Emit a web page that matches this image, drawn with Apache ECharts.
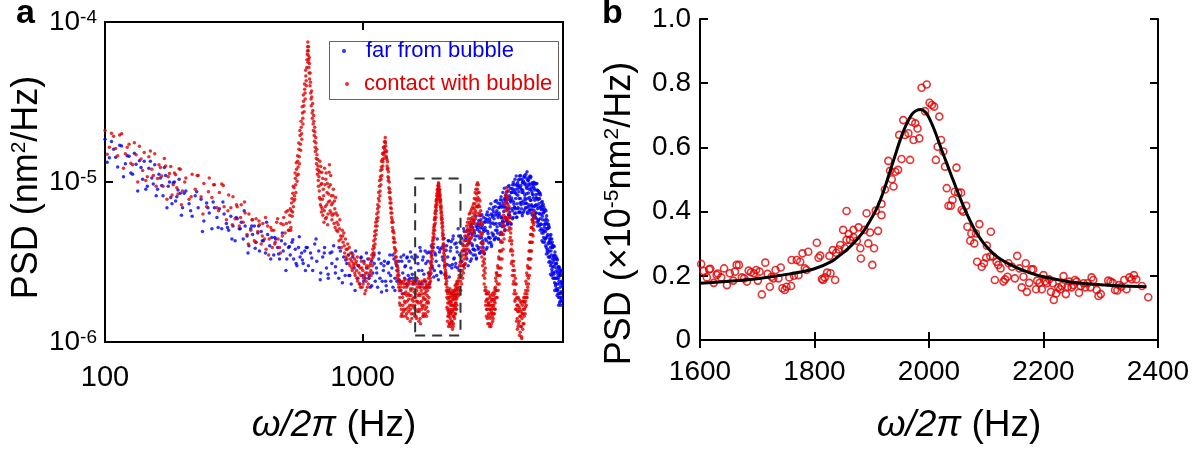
<!DOCTYPE html>
<html><head><meta charset="utf-8">
<script src="https://cdn.jsdelivr.net/npm/echarts@6/dist/echarts.min.js"></script>
<style>html,body{margin:0;padding:0;background:#fff}#c{width:1204px;height:452px}</style>
</head><body><div id="c"></div>
<script>
// ---------- Panel a: PSD values in units of 1e-6 nm^2/Hz ----------
const PSD_UNIT_A = 1e-6;
const farFromBubble = [
[100,18.5],[104,14.2],[108,16.0],[112,12.4],[116,16.8],[120,13.0],[124,14.5],[128,11.2],[132,12.9],[136,13.6],[140,10.4],[144,9.0],[148,12.2],[152,10.6],[156,12.8],[160,9.0],[164,10.6],[168,8.2],[172,11.0],[176,9.4],[180,8.0],[184,9.9],[188,7.6],[192,8.9],[196,8.5],[200,6.9],[206,8.8],[212,7.3],[218,6.1],[224,8.2],[230,6.9],[236,7.8],[242,5.7],[248,7.4],[254,6.4],[260,5.1],[266,6.9],[272,6.0],[278,6.8],[284,5.1],[290,6.3],[296,5.5],[302,5.0],[308,6.1],[314,5.3],[320,4.3],[326,5.9],[332,5.1],[338,5.6],[344,4.4],[350,5.3],[356,4.6],[362,4.0],[368,5.1],[374,4.7],[380,5.3],[386,4.2],[392,4.8],[398,3.7],[404,4.9],[412,4.3],[420,3.6],[428,4.7],[436,4.0],[444,4.5],[452,3.5],[460,4.4],[468,3.9],[476,3.3],[484,4.3],[492,3.7],[500,4.1],[508,3.3],[516,3.9],[524,3.5],[532,4.2],[540,3.3],[548,3.8],[556,3.0],[564,3.9],[572,3.4],[580,3.6],[588,3.1],[596,3.7],
[102,13.3],[106,17.9],[110,14.3],[114,17.0],[118,10.8],[122,14.6],[126,11.4],[130,15.1],[134,8.8],[138,12.3],[142,13.5],[146,9.4],[150,13.5],[154,9.7],[158,8.2],[162,11.2],[166,9.5],[170,12.3],[174,6.9],[178,10.0],[182,7.3],[186,10.0],[190,8.1],[194,10.4],[198,6.2],[203,8.5],[215,6.6],[227,8.7],[239,4.9],[251,6.9],[263,7.5],[275,5.2],[287,7.5],[299,5.2],[311,4.4],[323,6.0],[335,5.1],[347,6.6],[359,3.6],[371,5.3],[383,3.85],[395,5.3],[408,4.3],[424,5.6],[440,3.3],[456,4.5],[472,3.55],[488,4.8],[504,2.8],[520,3.95],[536,4.35],[552,3.1],[568,4.55],[584,3.25],[600,2.8],
[604,3.9],[616,3.0],[628,3.6],[640,2.8],[652,4.1],[664,3.2],[676,3.7],[688,2.7],[700,3.4],[712,3.9],[724,2.9],[736,2.5],[748,3.6],[760,3.1],[772,4.0],[784,2.7],[796,3.3],[808,2.5],[820,3.7],[832,2.8],[844,3.4],[856,2.6],[868,3.1],[880,3.5],[892,2.6],[904,2.3],[916,3.4],[928,2.9],[940,3.7],[952,2.5],[964,3.0],[976,2.3],[988,3.4],[1000,2.6],[1012,3.2],[1024,2.5],[1036,2.9],[1048,3.3],[1060,2.5],[1072,2.2],[1084,3.2],[1096,2.7],[1108,3.5],[1120,2.4],[1132,2.9],[1144,2.2],[1156,3.3],[1168,2.5],[1180,3.1],[1192,2.4],[1204,2.8],[1216,3.2],[1228,2.4],[1240,2.1],[1252,3.1],[1264,2.7],[1276,3.5],[1288,2.4],[1300,2.9],[1312,2.2],[1324,3.3],[1336,2.5],[1348,3.1],[1360,2.4],[1372,2.8],[1384,3.2],[1396,2.4],[1408,2.1],[1420,3.2],[1432,2.7],[1444,3.5],[1456,2.5],[1468,3.0],[1480,2.3],[1492,3.4],[1504,2.6],[1516,3.2],[1528,2.5],[1540,2.9],[1552,3.4],[1564,2.5],[1576,2.3],[1588,3.3],
[610,3.9],[635,3.35],[660,4.4],[685,2.45],[710,3.6],[735,2.65],[760,3.65],[785,2.95],[810,3.9],[835,2.35],[860,3.25],[885,2.6],[910,3.6],[935,2.1],[960,3.0],[985,3.35],[1010,2.4],[1035,3.6],[1060,2.6],[1085,2.25],[1110,3.1],[1135,2.7],[1160,3.6],[1185,2.05],[1210,3.0],[1235,2.25],[1260,3.15],[1285,2.6],[1310,3.5],[1335,2.1],[1360,3.0],[1385,2.45],[1410,3.4],[1435,2.0],[1460,2.95],[1485,3.35],[1510,2.45],[1535,3.65],[1560,2.65],[1585,2.35],
[1600,3.5],[1620,2.5],[1640,3.1],[1660,2.3],[1680,3.7],[1700,2.8],[1720,3.4],[1740,2.4],[1760,3.1],[1780,3.6],[1800,2.7],[1820,2.3],[1840,3.6],[1860,3.0],[1880,3.9],[1900,2.8],[1920,3.5],[1940,2.6],[1960,3.9],[1980,3.0],[2000,3.8],[2020,2.7],[2040,3.4],[2060,4.0],[2080,3.0],[2100,2.6],[2120,4.0],[2140,3.4],[2160,4.3],[2180,3.0],[2200,3.9],[2220,2.9],[2240,4.4],[2260,3.3],[2280,4.1],[2300,3.1],[2320,3.9],[2340,2.9],[2360,4.6],[2380,3.5],[2400,4.6],[2420,3.2],[2440,4.1],[2460,3.0],[2480,4.9],[2500,3.7],[2520,4.5],[2540,3.3],[2560,4.1],[2580,4.7],[2600,3.7],[2620,3.2],[2640,4.8],[2660,4.1],[2680,5.2],[2700,3.8],[2720,4.8],[2740,3.5],[2760,5.3],[2780,4.0],[2800,5.5],[2820,3.9],[2840,4.9],[2860,3.6],[2880,5.8],[2900,4.5],[2920,5.4],[2940,3.9],[2960,4.9],[2980,5.6],[3000,4.4],[3020,3.8],[3040,5.8],[3060,4.9],[3080,6.2],[3100,4.5],[3120,5.7],[3140,4.2],[3160,6.3],[3180,4.8],[3200,6.7],[3220,4.7],[3240,5.9],[3260,4.4],[3280,7.0],[3300,5.5],[3320,6.6],[3340,4.8],[3360,6.0],[3380,6.9],[3400,5.5],[3420,4.7],[3440,7.1],[3460,6.0],[3480,7.7],[3500,5.7],[3520,7.1],[3540,5.3],[3560,7.9],[3580,6.0],[3600,8.3],[3620,5.8],[3640,7.4],[3660,5.5],[3680,8.8],[3700,6.8],[3720,8.2],[3740,6.0],[3760,7.5],[3780,8.6],[3800,6.8],[3820,5.9],[3840,8.9],[3860,7.5],[3880,9.6],[3900,6.9],[3920,8.6],[3940,6.4],[3960,9.6],[3980,7.3],[4000,9.9],[4020,6.9],[4040,8.7],[4060,6.5],[4080,10.4],[4100,7.9],[4120,9.5],[4140,6.8],[4160,8.6],[4180,9.9],[4200,7.6],[4220,6.5],[4240,9.9],[4260,8.3],[4280,10.7],[4300,7.4],[4320,9.3],[4340,6.9],[4360,10.4],[4380,7.9],[4400,10.2],[4420,7.2],[4440,9.0],[4460,6.7],[4480,10.6],[4500,7.7],[4520,9.2],[4540,6.7],[4560,8.4],[4580,9.6],[4600,7.0],[4620,6.0],[4640,9.1],[4660,7.7],[4680,9.7],[4700,6.4],[4720,8.0],[4740,5.9],[4760,8.9],[4780,6.8],[4800,8.4],[4820,5.8],[4840,7.3],[4860,5.3],[4880,8.5],[4900,5.9],[4920,7.0],[4940,5.1],[4960,6.3],[4980,7.1],[5000,5.0],[5020,4.2],[5040,6.4],[5060,5.4],[5080,6.6],[5100,4.4],[5120,5.5],[5140,4.0],[5160,5.9],[5180,4.5],[5200,5.5],[5220,3.8],[5240,4.7],[5260,3.4],[5280,5.3],[5300,3.7],[5320,4.4],[5340,3.2],[5360,3.9],[5380,4.4],[5400,3.1],[5420,2.6],[5440,3.9],[5460,3.3],[5480,4.0],[5500,2.7],[5520,3.4],[5540,2.5],[5560,3.5],[5580,2.5],[5600,3.3],[5620,2.3],[5640,2.9],[5660,2.1],[5680,3.3],[5700,2.3],[5720,2.8],[5740,2.0],[5760,2.5],[5780,2.9],[5800,2.0],[5820,1.75],[5840,2.6],[5860,2.2],[5880,2.7],[5900,1.9],[5920,2.4],[5940,1.8],[5960,2.3],
[1610,2.4],[1630,3.4],[1650,2.8],[1670,3.9],[1690,2.3],[1710,3.25],[1730,2.65],[1750,3.7],[1770,2.2],[1790,3.2],[1810,3.65],[1830,2.65],[1850,4.0],[1870,2.9],[1890,2.55],[1910,3.6],[1930,3.2],[1950,4.4],[1970,2.45],[1990,3.65],[2010,2.75],[2030,3.9],[2050,3.25],[2070,4.45],[2090,2.65],[2110,3.75],[2130,3.05],[2150,4.3],[2170,2.55],[2190,3.7],[2210,4.25],[2230,3.05],[2250,4.6],[2270,3.35],[2290,2.95],[2310,4.15],[2330,3.65],[2350,5.1],[2370,2.8],[2390,4.2],[2410,3.15],[2430,4.45],[2450,3.7],[2470,5.1],[2490,3.05],[2510,4.35],[2530,3.55],[2550,5.0],[2570,3.0],[2590,4.35],[2610,5.0],[2630,3.6],[2650,5.45],[2670,4.0],[2690,3.5],[2710,4.95],[2730,4.35],[2750,6.1],[2770,3.35],[2790,5.05],[2810,3.8],[2830,5.35],[2850,4.45],[2870,6.15],[2890,3.7],[2910,5.2],[2930,4.3],[2950,6.0],[2970,3.55],[2990,5.2],[3010,5.9],[3030,4.3],[3050,6.5],[3070,4.75],[3090,4.15],[3110,5.9],[3130,5.25],[3150,7.3],[3170,4.05],[3190,6.05],[3210,4.6],[3230,6.5],[3250,5.45],[3270,7.55],[3290,4.5],[3310,6.4],[3330,5.25],[3350,7.4],[3370,4.4],[3390,6.4],[3410,7.35],[3430,5.35],[3450,8.1],[3470,5.95],[3490,5.25],[3510,7.4],[3530,6.55],[3550,9.15],[3570,5.05],[3590,7.6],[3610,5.7],[3630,8.1],[3650,6.75],[3670,9.35],[3690,5.6],[3710,7.9],[3730,6.5],[3750,9.1],[3770,5.45],[3790,7.95],[3810,9.1],[3830,6.6],[3850,9.95],[3870,7.25],[3890,6.35],[3910,8.95],[3930,7.9],[3950,10.9],[3970,6.05],[3990,9.05],[4010,6.8],[4030,9.55],[4050,7.9],[4070,10.9],[4090,6.5],[4110,9.15],[4130,7.45],[4150,10.4],[4170,6.15],[4190,8.9],[4210,10.15],[4230,7.3],[4250,10.95],[4270,7.95],[4290,6.9],[4310,9.7],[4330,8.45],[4350,11.6],[4370,6.35],[4390,9.45],[4410,7.0],[4430,9.75],[4450,8.0],[4470,10.9],[4490,6.4],[4510,8.95],[4530,7.2],[4550,9.9],[4570,5.8],[4590,8.3],[4610,9.35],[4630,6.65],[4650,9.85],[4670,7.05],[4690,6.05],[4710,8.35],[4730,7.2],[4750,9.8],[4770,5.3],[4790,7.75],[4810,5.7],[4830,7.85],[4850,6.35],[4870,8.55],[4890,5.0],[4910,6.85],[4930,5.45],[4950,7.45],[4970,4.3],[4990,6.1],[5010,6.75],[5030,4.8],[5050,7.0],[5070,4.95],[5090,4.2],[5110,5.75],[5130,4.9],[5150,6.6],[5170,3.55],[5190,5.1],[5210,3.7],[5230,5.1],[5250,4.1],[5270,5.45],[5290,3.15],[5310,4.25],[5330,3.4],[5350,4.6],[5370,2.65],[5390,3.7],[5410,4.1],[5430,2.85],[5450,4.2],[5470,2.95],[5490,2.5],[5510,3.45],[5530,2.95],[5550,3.95],[5570,2.1],[5590,3.05],[5610,2.25],[5630,3.1],[5650,2.5],[5670,3.35],[5690,1.95],[5710,2.7],[5730,2.15],[5750,2.95],[5770,1.7],[5790,2.4],[5810,2.7],[5830,1.9],[5850,2.8],[5870,2.0],[5890,1.7],[5910,2.35],[5930,2.05],[5950,2.8],
[2605,4.2],[2625,5.25],[2645,3.3],[2665,4.7],[2685,3.8],[2705,5.7],[2725,3.75],[2745,4.6],[2765,3.3],[2785,5.2],[2805,4.6],[2825,5.75],[2845,3.6],[2865,5.15],[2885,4.15],[2905,6.25],[2925,4.1],[2945,5.05],[2965,3.6],[2985,5.65],[3005,5.0],[3025,6.25],[3045,3.9],[3065,5.6],[3085,4.5],[3105,6.8],[3125,4.45],[3145,5.5],[3165,3.95],[3185,6.2],[3205,5.55],[3225,6.95],[3245,4.35],[3265,6.2],[3285,5.0],[3305,7.65],[3325,5.0],[3345,6.2],[3365,4.4],[3385,6.95],[3405,6.2],[3425,7.75],[3445,4.85],[3465,6.95],[3485,5.6],[3505,8.6],[3525,5.6],[3545,6.95],[3565,4.95],[3585,7.8],[3605,6.95],[3625,8.7],[3645,5.4],[3665,7.8],[3685,6.25],[3705,9.5],[3725,6.2],[3745,7.65],[3765,5.5],[3785,8.6],[3805,7.7],[3825,9.6],[3845,6.0],[3865,8.6],[3885,6.95],[3905,10.4],[3925,6.8],[3945,8.4],[3965,6.0],[3985,9.45],[4005,8.25],[4025,10.3],[4045,6.45],[4065,9.25],[4085,7.4],[4105,11.0],[4125,7.2],[4145,8.9],[4165,6.35],[4185,9.95],[4205,8.6],[4225,10.75],[4245,6.7],[4265,9.65],[4285,7.75],[4305,11.2],[4325,7.35],[4345,9.1],[4365,6.5],[4385,10.2],[4405,8.55],[4425,10.7],[4445,6.65],[4465,9.6],[4485,7.7],[4505,10.8],[4525,7.05],[4545,8.7],[4565,6.2],[4585,9.8],[4605,7.95],[4625,9.95],[4645,6.2],[4665,8.9],[4685,7.15],[4705,9.75],[4725,6.4],[4745,7.9],[4765,5.6],[4785,8.85],[4805,7.0],[4825,8.75],[4845,5.45],[4865,7.85],[4885,6.3],[4905,8.3],[4925,5.45],[4945,6.7],[4965,4.8],[4985,7.55],[5005,5.8],[5025,7.25],[5045,4.5],[5065,6.5],[5085,5.2],[5105,6.75],[5125,4.4],[5145,5.45],[5165,3.9],[5185,6.15],[5205,4.6],[5225,5.75],[5245,3.6],[5265,5.15],[5285,4.15],[5305,5.2],[5325,3.4],[5345,4.2],[5365,3.0],[5385,4.7],[5405,3.5],[5425,4.4],[5445,2.75],[5465,3.9],[5485,3.15],[5505,4.0],[5525,2.65],[5545,3.25],[5565,2.35],[5585,3.65],[5605,2.75],[5625,3.45],[5645,2.15],[5665,3.1],[5685,2.5],[5705,3.25],[5725,2.1],[5745,2.6],[5765,1.9],[5785,2.95],[5805,2.3],[5825,2.9],[5845,1.8],[5865,2.6],[5885,2.05],[5905,2.8],[5925,1.85],[5945,2.25]
];
const contactWithBubble = [
[100,21.0],[104,16.5],[108,19.3],[112,14.6],[116,20.0],[120,15.0],[124,17.2],[128,12.8],[132,14.8],[136,16.7],[140,11.8],[144,10.2],[148,14.4],[152,12.0],[156,15.0],[160,10.5],[164,12.3],[168,9.4],[172,12.6],[176,10.8],[180,12.5],[184,9.6],[188,11.1],[192,8.4],[196,12.0],[200,8.8],[206,10.6],[212,7.8],[218,11.2],[224,9.0],[230,11.0],[236,8.1],[242,9.8],[248,7.0],[254,10.6],[260,8.0],[266,9.6],[272,6.9],[278,8.6],[284,9.7],[290,7.0],[296,5.8],[302,8.3],[308,6.9],[314,8.1],[320,5.9],[326,7.0],[332,5.3],[338,7.2],[344,5.6],[350,6.4],[356,4.7],[362,6.3],[368,5.0],[374,5.8],[380,4.3],[386,5.9],[392,4.9],[398,5.4],[404,4.1],[410,5.5],[416,4.4],[422,3.8],[428,5.3],[434,4.4],[440,5.2],[446,3.9],[452,5.0],[458,4.2],[464,5.6],[470,4.4],[476,3.9],[482,5.5],[488,4.6],[494,6.0],[500,4.8],[506,5.5],[512,6.6],[518,5.0],
[102,14.9],[106,20.2],[110,16.2],[114,19.7],[118,12.2],[122,16.5],[126,13.1],[130,17.6],[134,10.0],[138,13.9],[142,15.3],[146,10.8],[150,15.6],[154,11.0],[158,9.4],[162,12.8],[166,10.9],[170,14.0],[174,7.8],[178,11.3],[182,8.3],[186,11.4],[190,9.2],[194,12.1],[198,7.2],[204,10.0],[216,8.1],[228,11.0],[240,6.3],[252,8.7],[264,9.6],[276,6.6],[288,9.5],[300,6.6],[312,5.4],[324,7.2],[336,6.0],[348,7.5],[360,4.1],[372,5.8],[384,4.2],[396,5.7],[408,4.6],[420,6.0],[432,3.5],[444,5.0],[456,4.1],[468,5.9],[480,3.6],[492,5.4],[504,6.5],[516,5.0],
[521,5.6],[524,6.8],[527,5.2],[530,7.4],[533,6.1],[536,8.5],[539,7.0],[542,9.2],[545,7.8],[548,10.5],[551,8.6],[554,12.0],[557,10.1],[560,13.5],[563,11.2],[566,16.0],[569,13.0],[572,19.5],[575,15.8],[578,22.0],[581,18.5],[584,27.0],[587,23.0],[590,32.0],[593,27.5],[596,38.0],[599,33.0],[602,46.0],[605,40.0],[608,58.0],[611,66.0],[613,75.0],[615,62.0],[617,70.0],[619,52.0],[621,60.0],[623,44.0],[626,48.0],[629,36.0],[632,30.0],[635,34.0],[638,25.0],[641,28.0],[644,21.0],[647,24.0],[650,18.0],[653,20.5],[656,15.5],[659,17.5],[662,13.0],[665,14.8],[668,11.2],[671,12.6],[674,9.4],[677,10.8],[680,8.0],[683,13.5],[686,7.2],[689,9.6],[692,6.5],[695,11.5],[698,7.8],[701,6.2],[704,9.0],[708,5.6],[712,12.2],[716,7.0],[720,10.4],[724,6.0],[728,8.6],[732,5.4],[736,7.5],[740,9.3],[744,12.8],[748,6.6],[752,11.0],[756,8.2],[760,5.8],[765,7.4],[770,9.0],[775,5.5],[780,6.8],[786,8.0],[792,5.0],[798,6.2],
[522,6.2],[526,5.0],[529,6.6],[532,7.9],[535,6.5],[538,9.4],[541,7.6],[544,8.2],[547,11.4],[550,9.6],[553,13.2],[556,11.0],[559,14.6],[562,12.4],[565,17.5],[568,14.4],[571,21.0],[574,17.2],[577,24.0],[580,20.0],[583,29.5],[586,25.0],[589,35.0],[592,30.0],[595,41.0],[598,36.0],[601,50.0],[604,43.0],[607,52.0],[610,63.0],[612,70.0],[614,56.0],[616,66.0],[618,58.0],[620,48.0],[622,55.0],[625,40.0],[628,42.0],[631,33.0],[634,37.0],[637,27.0],[640,31.0],[643,23.0],[646,26.0],[649,19.5],[652,22.0],[655,16.5],[658,19.0],[661,14.0],[664,16.0],[667,12.0],[670,13.8],[673,10.2],[676,11.8],[679,8.8],[682,11.5],[685,7.8],[688,12.5],[691,7.0],[694,9.8],[697,6.8],[700,10.5],[706,8.2],[710,6.6],[714,9.6],[718,5.9],[722,11.4],[726,7.2],[730,9.8],[734,6.3],[738,8.4],[742,11.5],[746,7.6],[750,9.6],[754,6.4],[758,7.2],[762,6.2],[768,8.2],[773,6.3],[778,7.6],[783,5.2],[789,6.4],[795,5.6],
[804,5.4],[810,4.3],[816,5.8],[822,4.6],[828,3.9],[834,5.0],[840,4.2],[846,4.8],[852,3.6],[858,4.4],[864,3.8],[870,3.3],[876,4.1],[882,3.5],[888,3.9],[894,3.0],[900,3.6],[906,3.2],[912,2.8],[918,3.5],[924,3.0],[930,3.3],[936,2.6],[942,3.1],[948,2.8],[954,3.4],[960,2.5],[966,3.0],[972,2.3],[978,2.9],[984,2.6],[990,3.2],[996,2.2],[1002,2.8],[1008,2.5],[1014,3.1],[1020,2.0],[1026,2.7],[1032,2.4],[1038,3.0],[1044,2.2],[1050,2.9],[1056,2.5],[1062,3.3],[1068,2.7],[1074,3.1],[1080,2.6],[1086,3.5],[1092,3.0],
[801,4.9],[813,5.1],[825,4.4],[837,4.6],[849,4.0],[861,3.4],[873,3.8],[885,3.1],[897,3.3],[909,2.9],[921,3.1],[933,2.7],[945,3.2],[957,2.4],[969,2.7],[981,2.2],[993,2.9],[1005,2.3],[1017,2.6],[1029,2.1],[1041,2.7],[1053,2.3],[1065,3.0],[1077,2.8],[1089,3.3],
[1096,3.8],[1100,3.4],[1105,4.3],[1110,3.9],[1115,4.9],[1120,4.4],[1125,5.6],[1130,5.0],[1135,6.3],[1140,5.7],[1145,7.2],[1150,6.5],[1155,8.6],[1160,7.6],[1165,10.2],[1170,8.8],[1175,11.8],[1180,10.4],[1185,13.5],[1190,12.0],[1195,15.0],[1200,13.4],[1205,16.4],[1210,14.8],[1215,17.8],[1220,16.0],[1225,19.0],[1230,16.8],[1235,14.5],[1240,15.6],[1245,12.6],[1250,13.4],[1255,10.8],[1260,11.6],[1265,9.2],[1270,10.0],[1275,8.0],[1280,8.6],[1285,6.9],[1290,7.4],[1295,6.0],[1300,6.4],[1306,5.2],[1312,5.6],[1318,4.5],[1324,4.8],[1330,3.9],[1336,4.2],[1342,3.4],[1348,3.7],[1354,3.0],[1360,3.2],[1366,2.6],[1372,2.9],[1378,2.3],[1384,2.6],
[1098,3.6],[1103,4.0],[1108,3.6],[1113,4.6],[1118,4.1],[1123,5.3],[1128,4.7],[1133,5.9],[1138,5.3],[1143,6.8],[1148,6.0],[1153,7.9],[1158,7.0],[1163,9.4],[1168,8.2],[1173,10.8],[1178,9.6],[1183,12.4],[1188,11.0],[1193,13.8],[1198,12.6],[1203,15.2],[1208,14.0],[1213,16.6],[1218,15.4],[1223,18.0],[1228,17.5],[1233,15.4],[1238,14.2],[1243,13.8],[1248,12.0],[1253,12.2],[1258,10.2],[1263,10.6],[1268,8.6],[1273,9.0],[1278,7.4],[1283,7.8],[1288,6.4],[1293,6.8],[1298,5.6],[1303,5.8],[1309,4.9],[1315,5.0],[1321,4.2],[1327,4.4],[1333,3.6],[1339,3.8],[1345,3.2],[1351,3.4],[1357,2.8],[1363,3.0],[1369,2.5],[1375,2.7],[1381,2.2],[1387,2.4],
[1390,2.1],[1395,1.9],[1400,1.7],[1405,2.4],[1410,2.3],[1415,1.6],[1420,1.5],[1425,2.0],[1430,1.9],[1435,1.45],[1440,2.4],[1445,2.2],[1450,1.6],[1455,1.8],[1460,2.0],[1465,2.45],[1470,1.45],[1475,1.6],[1480,2.2],[1485,1.95],[1490,1.8],[1495,1.4],[1500,2.35],[1505,2.0],[1510,1.55],[1515,2.3],[1520,1.95],[1525,1.7],[1530,1.35],[1535,2.15],[1540,2.1],[1545,1.5],[1550,1.7],[1555,1.85],[1560,2.3],[1565,2.4],[1570,1.5],[1575,1.65],[1580,1.9],[1585,2.05],[1590,2.4],[1595,1.45],[1600,1.6],[1605,2.3],[1610,2.0],[1615,1.8],[1620,1.4],[1625,2.5],[1630,2.2],[1635,1.55],[1640,1.75],[1645,1.95],[1650,2.4],[1655,1.35],[1660,1.55],[1665,2.2],[1670,1.95],[1675,1.75],[1680,1.3],[1685,2.35],[1690,2.1],[1695,1.6],[1700,1.7],[1705,2.0],[1710,2.3],[1715,1.45],[1720,1.5],[1725,2.2],[1730,1.85],[1735,1.7],[1740,2.45],[1745,2.0],[1750,1.6],[1755,1.5],[1760,2.05],[1765,2.3],[1770,1.45],[1775,1.75],[1780,2.25],[1785,2.1],[1790,1.8],[1795,1.55],[1800,2.5],[1805,2.2],[1810,1.9],[1815,2.6],
[1392,1.75],[1402,2.2],[1412,1.45],[1422,2.35],[1432,1.7],[1442,1.55],[1452,2.3],[1462,1.75],[1472,2.05],[1482,1.5],[1492,2.25],[1502,1.65],[1512,1.85],[1522,2.4],[1532,1.6],[1542,1.95],[1552,1.4],[1562,2.15],[1572,1.8],[1582,2.35],[1592,1.7],[1602,1.9],[1612,1.45],[1622,2.1],[1632,1.8],[1642,2.3],[1652,1.6],[1662,2.0],[1672,1.4],[1682,2.2],[1692,1.8],[1702,2.4],[1712,1.65],[1722,1.9],[1732,1.45],[1742,2.15],[1752,1.85],[1762,2.4],[1772,1.65],[1782,1.95],[1792,2.2],[1802,1.75],[1812,2.3],
[1820,2.6],[1825,2.2],[1830,2.9],[1835,2.4],[1840,3.2],[1845,2.7],[1850,3.5],[1855,3.0],[1860,3.9],[1865,3.3],[1870,4.3],[1875,3.7],[1880,4.8],[1885,4.1],[1890,5.2],[1895,4.5],[1900,5.8],[1905,5.0],[1910,6.4],[1915,5.5],[1920,7.0],[1925,6.0],[1930,7.6],[1935,6.6],[1940,8.2],[1945,7.2],[1950,8.9],[1955,7.8],[1960,9.5],[1965,8.4],[1970,9.9],[1975,8.8],[1980,9.4],[1985,8.2],[1990,9.0],[1995,7.6],[2000,8.2],[2005,7.0],[2010,7.6],[2015,6.4],[2020,6.9],[2025,5.8],[2030,6.2],[2035,5.2],[2040,5.6],[2045,4.6],[2050,5.0],[2055,4.1],[2060,4.4],[2065,3.6],[2070,3.9],[2075,3.2],[2080,3.5],[2085,2.9],[2090,3.1],[2095,2.6],[2100,2.8],[2105,2.3],[2110,2.6],[2115,2.1],[2120,2.4],
[1822,2.35],[1827,2.75],[1832,2.5],[1837,3.1],[1842,2.85],[1847,3.4],[1852,3.15],[1857,3.7],[1862,3.5],[1867,4.1],[1872,3.9],[1877,4.5],[1882,4.35],[1887,5.0],[1892,4.7],[1897,5.4],[1902,5.3],[1907,6.0],[1912,5.8],[1917,6.6],[1922,6.3],[1927,7.2],[1932,6.9],[1937,7.8],[1942,7.5],[1947,8.5],[1952,8.1],[1957,9.0],[1962,8.7],[1967,9.3],[1972,9.0],[1977,9.7],[1982,8.6],[1987,8.8],[1992,8.0],[1997,8.4],[2002,7.4],[2007,7.8],[2012,6.7],[2017,7.1],[2022,6.0],[2027,6.5],[2032,5.5],[2037,5.9],[2042,4.8],[2047,5.3],[2052,4.4],[2057,4.7],[2062,3.8],[2067,4.1],[2072,3.4],[2077,3.7],[2082,3.0],[2087,3.3],[2092,2.7],[2097,3.0],[2102,2.5],[2107,2.7],[2112,2.3],[2117,2.5],
[2125,1.9],[2130,2.2],[2135,1.6],[2140,2.0],[2145,1.45],[2150,1.85],[2155,2.1],[2160,1.5],[2165,1.75],[2170,1.3],[2175,1.9],[2180,1.55],[2185,2.15],[2190,1.4],[2195,1.7],[2200,1.25],[2205,1.95],[2210,1.5],[2215,1.8],[2220,1.3],[2225,2.0],[2230,1.6],[2235,1.2],[2240,1.85],[2245,1.45],[2250,1.7],[2255,1.3],[2260,2.0],[2265,1.6],[2270,1.85],[2275,1.4],[2280,2.1],[2285,1.65],[2290,1.9],[2295,1.5],[2300,2.15],[2305,1.75],[2310,2.0],[2315,1.6],[2320,2.3],[2325,1.9],[2330,2.2],[2340,2.0],[2350,2.4],[2360,2.1],
[2127,1.65],[2132,2.05],[2137,1.35],[2142,1.75],[2147,2.1],[2152,1.55],[2157,1.25],[2162,1.9],[2167,1.45],[2172,2.05],[2177,1.6],[2182,1.3],[2187,1.8],[2192,2.0],[2197,1.5],[2202,1.75],[2207,1.35],[2212,2.05],[2217,1.55],[2222,1.7],[2227,1.35],[2232,1.9],[2237,1.55],[2242,2.1],[2247,1.25],[2252,1.95],[2257,1.7],[2262,1.45],[2267,2.05],[2272,1.7],[2277,1.95],[2282,1.5],[2287,2.25],[2292,1.75],[2297,1.95],[2302,1.6],[2307,2.3],[2312,1.85],[2317,2.1],[2322,1.7],[2327,2.4],[2335,2.15],[2345,2.3],[2355,1.95],[2365,2.5],
[2370,2.6],[2380,2.2],[2390,2.8],[2400,2.4],[2410,3.0],[2420,2.6],[2430,3.2],[2440,2.8],[2450,3.5],[2460,3.0],[2470,3.8],[2480,3.3],[2490,4.0],[2500,3.5],[2510,4.3],[2520,3.8],[2530,4.6],[2540,4.0],[2550,4.9],[2560,4.3],[2570,5.1],[2580,4.5],[2590,5.4],[2600,4.8],[2610,5.6],[2620,5.0],[2630,5.9],[2640,5.3],[2650,5.7],[2660,5.1],[2670,6.0],[2680,5.5],[2690,6.4],[2700,5.8],[2710,6.8],[2720,6.2],[2730,7.3],[2740,6.6],[2750,7.8],[2760,7.0],[2770,8.4],[2780,7.6],[2790,9.0],[2800,8.0],[2810,8.6],[2820,7.2],[2830,7.8],[2840,6.4],[2850,7.0],[2860,5.6],[2870,6.2],[2880,4.8],[2890,5.4],[2900,4.2],[2910,4.7],[2920,3.7],[2930,4.1],[2940,3.2],[2950,3.6],[2960,2.8],[2970,3.1],[2980,2.5],[2990,2.7],
[2375,3.0],[2385,2.0],[2395,3.15],[2405,2.1],[2415,3.4],[2425,2.3],[2435,3.7],[2445,2.5],[2455,4.0],[2465,2.7],[2475,4.3],[2485,2.9],[2495,4.6],[2505,3.1],[2515,4.9],[2525,3.4],[2535,5.3],[2545,3.6],[2555,5.6],[2565,3.8],[2575,5.9],[2585,4.1],[2595,6.3],[2605,4.2],[2615,6.4],[2625,4.4],[2635,6.6],[2645,4.5],[2655,6.8],[2665,4.6],[2675,7.0],[2685,4.8],[2695,7.3],[2705,5.0],[2715,7.9],[2725,5.5],[2735,8.6],[2745,5.9],[2755,9.0],[2765,6.4],[2775,9.6],[2785,7.0],[2795,9.9],[2805,7.0],[2815,9.6],[2825,6.2],[2835,8.6],[2845,5.4],[2855,7.6],[2865,4.6],[2875,6.6],[2885,3.9],[2895,5.6],[2905,3.4],[2915,4.8],[2925,3.0],[2935,4.2],[2945,2.6],[2955,3.7],[2965,2.3],[2975,3.3],[2985,2.1],[2995,2.9],
[3000,2.2],[3010,1.8],[3020,2.0],[3030,1.6],[3040,1.85],[3050,1.4],[3060,1.7],[3070,2.0],[3080,1.5],[3090,1.75],[3100,1.3],[3110,1.6],[3120,1.9],[3130,1.4],[3140,1.7],[3150,1.25],[3160,1.55],[3170,1.85],[3180,1.45],[3190,1.7],[3200,1.35],[3210,1.65],[3220,1.95],[3230,1.5],[3240,1.8],[3250,1.6],[3260,2.0],[3270,1.75],[3280,2.2],[3290,1.9],[3300,2.4],
[3005,1.7],[3015,2.1],[3025,1.45],[3035,2.0],[3045,1.6],[3055,1.85],[3065,1.3],[3075,1.75],[3085,2.05],[3095,1.45],[3105,1.7],[3115,1.25],[3125,1.6],[3135,1.95],[3145,1.5],[3155,1.8],[3165,1.3],[3175,1.6],[3185,2.0],[3195,1.5],[3205,1.85],[3215,1.4],[3225,1.7],[3235,2.05],[3245,1.5],[3255,1.85],[3265,2.15],[3275,1.6],[3285,2.5],[3295,2.1],[3305,2.7],
[3310,2.1],[3325,2.6],[3340,2.3],[3355,2.9],[3370,2.6],[3385,3.3],[3400,2.9],[3415,3.7],[3430,3.3],[3445,4.2],[3460,3.7],[3475,4.7],[3490,4.2],[3505,5.3],[3520,4.7],[3535,5.9],[3550,5.3],[3565,6.6],[3580,6.0],[3595,7.4],[3610,8.4],[3625,7.6],[3640,8.0],[3655,6.8],[3670,7.2],[3685,6.0],[3700,6.4],[3715,5.2],[3730,5.6],[3745,4.5],[3760,4.8],[3775,3.8],[3790,4.1],[3805,3.2],[3820,3.5],[3835,2.8],[3850,3.0],[3865,2.4],[3880,2.6],[3895,2.1],[3910,2.3],[3925,1.85],[3940,2.0],
[3317,2.7],[3332,1.9],[3347,3.0],[3362,2.1],[3377,3.4],[3392,2.3],[3407,3.7],[3422,2.6],[3437,4.3],[3452,2.9],[3467,4.8],[3482,3.3],[3497,5.5],[3512,3.8],[3527,6.2],[3542,4.4],[3557,7.2],[3572,5.0],[3587,8.2],[3602,6.0],[3617,9.2],[3632,6.6],[3647,8.8],[3662,5.8],[3677,7.9],[3692,5.0],[3707,7.0],[3722,4.3],[3737,6.0],[3752,3.7],[3767,5.1],[3782,3.1],[3797,4.3],[3812,2.6],[3827,3.7],[3842,2.3],[3857,3.2],[3872,2.0],[3887,2.8],[3902,1.8],[3917,2.5],[3932,1.6],[3947,2.3],
[3955,1.6],[3970,1.9],[3985,1.4],[4000,1.7],[4015,1.25],[4030,1.55],[4045,1.85],[4060,1.35],[4075,1.6],[4090,1.15],[4105,1.45],[4120,1.75],[4135,1.25],[4150,1.05],[4165,1.5],[4180,1.8],[4195,1.3],[4210,1.6],[4225,1.9],[4240,1.45],[4255,1.75],[4270,2.0],[4285,1.65],[4300,2.1],
[3962,1.35],[3977,1.7],[3992,1.2],[4007,1.55],[4022,1.9],[4037,1.3],[4052,1.65],[4067,1.1],[4082,1.45],[4097,1.8],[4112,1.25],[4127,1.55],[4142,1.08],[4157,1.4],[4172,1.7],[4187,1.2],[4202,1.5],[4217,1.8],[4232,1.3],[4247,1.6],[4262,1.9],[4277,1.5],[4292,1.8],
[4315,1.9],[4330,2.3],[4345,2.0],[4360,2.6],[4375,2.2],[4390,2.9],[4405,2.5],[4420,3.3],[4435,2.9],[4450,3.7],[4465,3.3],[4480,4.2],[4495,3.7],[4510,4.7],[4525,4.2],[4540,5.2],[4555,4.7],[4570,5.6],[4585,5.1],[4600,5.9],[4615,5.4],[4630,6.0],
[4307,2.4],[4322,1.7],[4337,2.7],[4352,1.9],[4367,3.0],[4382,2.1],[4397,3.3],[4412,2.3],[4427,3.7],[4442,2.6],[4457,4.2],[4472,2.9],[4487,4.7],[4502,3.3],[4517,5.2],[4532,3.7],[4547,5.8],[4562,4.2],[4577,6.3],[4592,4.6],[4607,6.5],[4622,5.0],[4637,5.6]
];
// dashed zoom window (frequency range of panel b, PSD range in 1e-6 units)
const zoomBoxFreq = [1600, 2400];
const zoomBoxPsd = [1.1, 10.5];
const xTicksA = [100, 1000];
const xRangeA = [100, 6000];
const yExpA = [-6, -5, -4];

// ---------- Panel b: PSD in units of 1e-5 nm^2/Hz ----------
const panelBPoints = [
[1602,0.237],[1606,0.215],[1612,0.195],[1616,0.220],[1618,0.222],[1624,0.178],[1629,0.203],[1631,0.207],[1637,0.195],[1642,0.223],[1647,0.171],[1652,0.208],[1658,0.185],[1661,0.213],[1664,0.234],[1668,0.234],[1673,0.195],[1677,0.192],[1682,0.182],[1685,0.216],[1689,0.211],[1694,0.208],[1698,0.218],[1701,0.185],[1704,0.213],[1708,0.142],[1714,0.241],[1718,0.206],[1722,0.166],[1725,0.197],[1728,0.192],[1732,0.218],[1737,0.192],[1741,0.226],[1744,0.161],[1748,0.156],[1751,0.166],[1756,0.195],[1759,0.168],[1760,0.249],[1764,0.200],[1769,0.249],[1772,0.202],[1775,0.244],[1779,0.270],[1783,0.223],[1786,0.218],[1789,0.275],[1804,0.303],[1807,0.256],[1810,0.263],[1813,0.190],[1815,0.187],[1818,0.195],[1822,0.210],[1826,0.262],[1828,0.208],[1832,0.280],[1836,0.187],[1838,0.272],[1842,0.282],[1845,0.296],[1850,0.343],[1853,0.286],[1856,0.312],[1856,0.402],[1860,0.330],[1862,0.312],[1868,0.320],[1868,0.343],[1874,0.309],[1877,0.351],[1880,0.286],[1881,0.254],[1887,0.343],[1891,0.395],[1894,0.301],[1897,0.335],[1901,0.234],[1904,0.286],[1907,0.403],[1911,0.340],
[1917,0.389],[1917,0.424],[1923,0.469],[1929,0.558],[1932,0.527],[1935,0.501],[1938,0.478],[1941,0.524],[1946,0.530],[1952,0.564],[1948,0.639],[1955,0.685],[1958,0.639],[1964,0.644],[1967,0.561],[1970,0.680],[1973,0.623],[1976,0.675],[1980,0.659],[1983,0.628],[1987,0.786],[1996,0.796],[1993,0.713],[2001,0.739],[2005,0.732],[2009,0.727],[2012,0.561],[2015,0.602],[2018,0.696],[2021,0.623],[2025,0.587],[2028,0.540],[2031,0.473],[2034,0.418],[2038,0.418],[2041,0.436],[2045,0.462],[2048,0.537],[2051,0.459],[2056,0.459],[2057,0.405],[2060,0.400],[2065,0.418],[2067,0.353],[2072,0.309],[2074,0.332],[2079,0.301],[2082,0.332],[2088,0.361],[2084,0.244],[2092,0.228],[2096,0.239],[2101,0.294],[2100,0.256],[2107,0.260],[2108,0.337],[2112,0.260],[2115,0.187],[2118,0.244],[2121,0.234],[2125,0.223],[2130,0.182],[2133,0.189],[2137,0.197],[2139,0.239],[2145,0.228],[2150,0.192],[2154,0.262],[2158,0.223],[2162,0.164],[2165,0.197],[2169,0.239],[2171,0.150],[2175,0.178],[2179,0.220],[2182,0.220],[2187,0.158],[2189,0.185],[2193,0.178],[2197,0.158],[2200,0.202],[2203,0.182],[2206,0.177],[2210,0.189],[2213,0.150],[2216,0.177],[2218,0.125],[2222,0.145],[2226,0.164],[2229,0.158],[2232,0.168],[2235,0.199],[2239,0.143],[2242,0.166],[2245,0.182],[2249,0.164],[2252,0.171],[2255,0.187],[2258,0.182],[2262,0.147],[2265,0.168],[2270,0.177],[2273,0.164],[2277,0.177],[2282,0.164],[2284,0.195],[2287,0.187],[2293,0.156],[2296,0.137],[2300,0.143],[2313,0.185],[2317,0.182],[2321,0.178],[2325,0.156],[2329,0.154],[2332,0.171],[2336,0.166],[2341,0.187],[2345,0.158],[2350,0.195],[2354,0.189],[2358,0.202],[2362,0.189],[2372,0.168],[2383,0.133]
];
const panelBFit = [
[1600,0.177],[1650,0.183],[1700,0.191],[1757,0.206],[1800,0.222],[1830,0.245],[1845,0.265],[1860,0.287],[1875,0.315],[1885,0.337],[1895,0.365],[1909,0.411],[1920,0.460],[1930,0.515],[1940,0.570],[1950,0.625],[1960,0.670],[1970,0.703],[1978,0.715],[1986,0.718],[1994,0.709],[2000,0.693],[2010,0.652],[2020,0.602],[2030,0.555],[2040,0.508],[2050,0.462],[2060,0.418],[2070,0.378],[2080,0.343],[2090,0.315],[2100,0.292],[2120,0.258],[2150,0.228],[2175,0.210],[2200,0.197],[2250,0.180],[2300,0.172],[2340,0.168],[2380,0.166]
];
const xTicksB = [1600, 1800, 2000, 2200, 2400];
const yTicksB = [0, 0.2, 0.4, 0.6, 0.8, 1.0];

// ---------- chart ----------
const FONT = 'Liberation Sans, Arial, Helvetica, sans-serif';
const BLUE = '#0000ee', RED = '#e00000';
const frameLine = { show: true, lineStyle: { color: '#000', width: 2 } };
const inTick = { show: true, inside: true, length: 8, lineStyle: { color: '#000', width: 2 } };
const noLabel = { show: false };

const chart = echarts.init(document.getElementById('c'), null, { renderer: 'canvas' });
const scaleA = v => v * PSD_UNIT_A;

const logX = (pos, show) => ({
  type: 'log', logBase: 10, gridIndex: 0, position: pos,
  min: xRangeA[0], max: xRangeA[1],
  axisLine: frameLine, axisTick: inTick, splitLine: { show: false },
  axisLabel: show ? {
    show: true, margin: 21, fontSize: 29, fontFamily: FONT, color: '#000', showMaxLabel: false,
    formatter: v => { const t = xTicksA.find(k => Math.abs(k - v) / k < 1e-6); return t ? String(t) : ''; }
  } : noLabel
});
const logY = (pos, show) => ({
  type: 'log', logBase: 10, gridIndex: 0, position: pos,
  min: Math.pow(10, yExpA[0]), max: Math.pow(10, yExpA[yExpA.length - 1]),
  axisLine: frameLine, axisTick: inTick, splitLine: { show: false },
  axisLabel: show ? {
    show: true, margin: 8, fontFamily: FONT, color: '#000',
    formatter: v => '{b|10}{s|' + Math.round(Math.log10(v)) + '}',
    rich: {
      b: { fontSize: 28, fontFamily: FONT, color: '#000', verticalAlign: 'bottom' },
      s: { fontSize: 19, fontFamily: FONT, color: '#000', verticalAlign: 'top' }
    }
  } : noLabel
});
const linX = (pos, show) => ({
  type: 'value', gridIndex: 1, position: pos,
  min: xTicksB[0], max: xTicksB[xTicksB.length - 1], interval: xTicksB[1] - xTicksB[0],
  axisLine: frameLine, axisTick: inTick, splitLine: { show: false },
  axisLabel: show ? { show: true, margin: 18, fontSize: 28, fontFamily: FONT, color: '#000',
    formatter: v => String(Math.round(v)) } : noLabel
});
const linY = (pos, show) => ({
  type: 'value', gridIndex: 1, position: pos,
  min: yTicksB[0], max: yTicksB[yTicksB.length - 1], interval: yTicksB[1] - yTicksB[0],
  axisLine: frameLine, axisTick: inTick, splitLine: { show: false },
  axisLabel: show ? { show: true, margin: 9, fontSize: 28, fontFamily: FONT, color: '#000',
    formatter: v => v === 0 ? '0' : v.toFixed(1) } : noLabel
});

const xName = {
  name: '{i|ω/2π} (Hz)', nameLocation: 'middle',
  nameTextStyle: { fontSize: 37, fontFamily: FONT, color: '#000',
    rich: { i: { fontSize: 37, fontFamily: FONT, fontStyle: 'italic', color: '#000' } } }
};

const xa0 = Object.assign(logX('bottom', true), xName, { nameGap: 65 });
const xb0 = Object.assign(linX('bottom', true), xName, { nameGap: 67 });
xb0.nameTextStyle = Object.assign({}, xName.nameTextStyle, { padding: [0, 0, 0, 60] });

const supRich = { s: { fontSize: 21, fontFamily: FONT, color: '#000', verticalAlign: 'top' } };
const ya0 = Object.assign(logY('left', true), {
  name: 'PSD (nm{s|2}/Hz)', nameLocation: 'middle', nameRotate: 90, nameGap: 58,
  nameTextStyle: { fontSize: 36, fontFamily: FONT, color: '#000', padding: [0, 11, 0, 0], rich: supRich }
});
const yb0 = Object.assign(linY('left', true), {
  name: 'PSD (×10{s|-5}nm{s|2}/Hz)', nameLocation: 'middle', nameRotate: 90, nameGap: 62,
  nameTextStyle: { fontSize: 36, fontFamily: FONT, color: '#000', padding: [0, 68, 0, 0], rich: supRich }
});

const boxData = [
  [zoomBoxFreq[0], scaleA(zoomBoxPsd[0])], [zoomBoxFreq[1], scaleA(zoomBoxPsd[0])],
  [zoomBoxFreq[1], scaleA(zoomBoxPsd[1])], [zoomBoxFreq[0], scaleA(zoomBoxPsd[1])],
  [zoomBoxFreq[0], scaleA(zoomBoxPsd[0])]
];

const legendBase = {
  orient: 'horizontal', align: 'left', padding: 0, itemHeight: 4, icon: 'circle',
  textStyle: { fontSize: 22, fontFamily: FONT, lineHeight: 22 }, selectedMode: false
};

chart.setOption({
  animation: false,
  backgroundColor: '#fff',
  title: [
    { text: 'a', left: 16, top: -3, padding: 0, textStyle: { fontSize: 34, fontWeight: 'bold', fontFamily: FONT, color: '#000' } },
    { text: 'b', left: 602, top: -3, padding: 0, textStyle: { fontSize: 34, fontWeight: 'bold', fontFamily: FONT, color: '#000' } }
  ],
  graphic: [
    { type: 'rect', left: 329, top: 41, z: 0, silent: true,
      shape: { width: 229, height: 58 }, style: { fill: '#fff', stroke: '#6e6259', lineWidth: 1 } }
  ],
  grid: [
    { left: 105, top: 22, width: 458, height: 320 },
    { left: 700, top: 19, width: 458, height: 321 }
  ],
  legend: [
    Object.assign({}, legendBase, { left: 342, top: 40, itemWidth: 34,
      data: [{ name: 'far from bubble', textStyle: { color: BLUE } }] }),
    Object.assign({}, legendBase, { left: 345, top: 73, itemWidth: 24,
      data: [{ name: 'contact with bubble', textStyle: { color: RED } }] })
  ],
  xAxis: [xa0, logX('top', false), xb0, linX('top', false)],
  yAxis: [ya0, logY('right', false), yb0, linY('right', false)],
  series: [
    { name: 'far from bubble', type: 'scatter', xAxisIndex: 0, yAxisIndex: 0,
      symbol: 'circle', symbolSize: 3.5, itemStyle: { color: BLUE }, silent: true,
      data: farFromBubble.map(([f, v]) => [f, scaleA(v)]) },
    { name: 'contact with bubble', type: 'scatter', xAxisIndex: 0, yAxisIndex: 0,
      symbol: 'circle', symbolSize: 3.5, itemStyle: { color: RED }, silent: true,
      data: contactWithBubble.map(([f, v]) => [f, scaleA(v)]) },
    { name: 'zoom window', type: 'line', xAxisIndex: 0, yAxisIndex: 0, symbol: 'none', z: 5,
      lineStyle: { color: '#333', width: 2, type: [10, 7] }, data: boxData },
    { name: 'panel b data', type: 'scatter', xAxisIndex: 2, yAxisIndex: 2,
      symbol: 'circle', symbolSize: 7,
      itemStyle: { color: 'rgba(0,0,0,0)', borderColor: RED, borderWidth: 1.6 },
      data: panelBPoints },
    { name: 'panel b fit', type: 'line', xAxisIndex: 2, yAxisIndex: 2, symbol: 'none', smooth: 0.4, z: 4,
      lineStyle: { color: '#000', width: 3 }, data: panelBFit }
  ]
});
</script>
</body></html>
